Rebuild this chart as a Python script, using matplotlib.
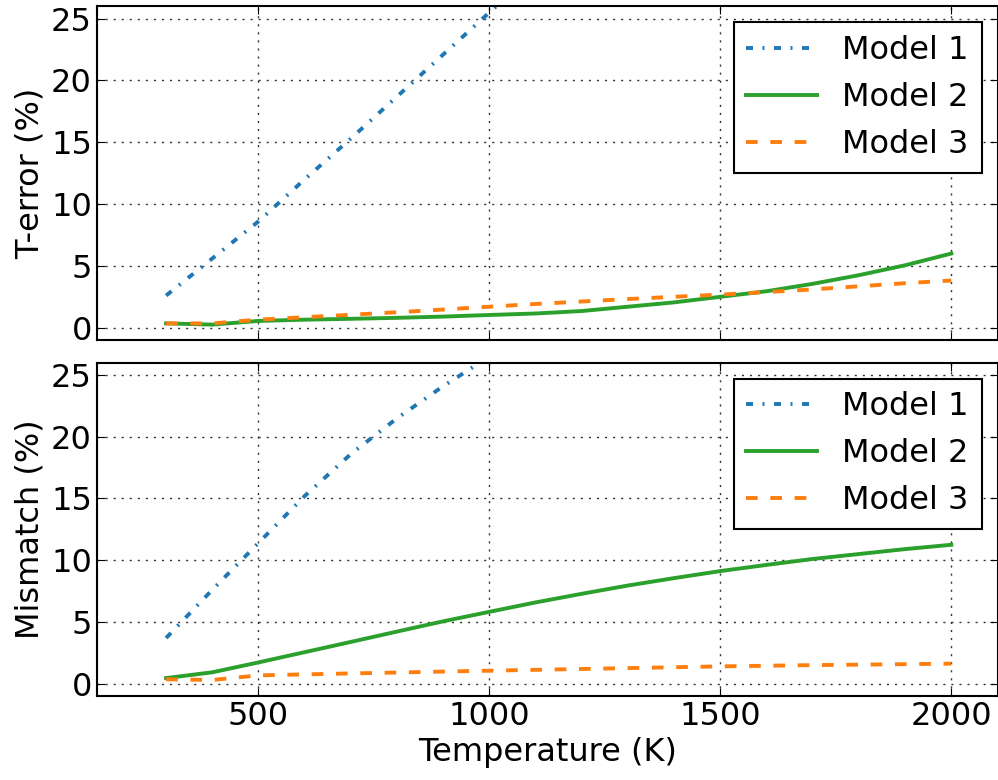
import matplotlib
matplotlib.use('Agg')
import matplotlib.pyplot as plt

# temperature grid (K)
temps = [300, 400, 500, 600, 700, 800, 900, 1000, 1100, 1200, 1300,
         1400, 1500, 1600, 1700, 1800, 1900, 2000]

# T-error (%)
terr_m1 = [2.6, 5.6, 8.6, 12.0, 15.3, 18.7, 22.1, 25.5, 28.9, 32.3, 35.7,
           39.1, 42.5, 45.9, 49.3, 52.7, 56.1, 59.5]
terr_m2 = [0.35, 0.25, 0.55, 0.65, 0.72, 0.8, 0.9, 1.03, 1.15, 1.35, 1.7,
           2.05, 2.5, 2.95, 3.55, 4.25, 5.05, 6.0]
terr_m3 = [0.35, 0.35, 0.65, 0.85, 1.05, 1.25, 1.47, 1.7, 1.92, 2.12, 2.32,
           2.5, 2.68, 2.88, 3.1, 3.35, 3.6, 3.82]

# Mismatch (%)
mis_m1 = [3.7, 7.6, 11.4, 15.2, 18.6, 21.5, 24.1, 26.5, 28.7, 30.8, 32.8,
          34.7, 36.5, 38.2, 39.8, 41.3, 42.7, 44.0]
mis_m2 = [0.45, 0.92, 1.72, 2.55, 3.38, 4.22, 5.05, 5.82, 6.58, 7.28, 7.95,
          8.55, 9.12, 9.62, 10.1, 10.5, 10.9, 11.25]
mis_m3 = [0.35, 0.3, 0.67, 0.75, 0.83, 0.9, 0.98, 1.05, 1.12, 1.19, 1.26,
          1.33, 1.4, 1.45, 1.5, 1.54, 1.58, 1.62]

labels = ['Model 1', 'Model 2', 'Model 3']

plt.rcParams['font.size'] = 23
plt.rcParams['xtick.direction'] = 'in'
plt.rcParams['ytick.direction'] = 'in'
plt.rcParams['xtick.top'] = True
plt.rcParams['ytick.right'] = True
plt.rcParams['xtick.major.size'] = 6
plt.rcParams['ytick.major.size'] = 6

lw = 2.8
dashdot = (0, (1.8, 2.45, 0.5, 2.45))
dashed = (0, (3.0, 3.25))

fig = plt.figure(figsize=(9.98, 7.8), dpi=100)
ax1 = fig.add_axes([0.097, 0.564, 0.9025, 0.428])
ax2 = fig.add_axes([0.097, 0.1077, 0.9025, 0.4273], sharex=ax1)

for ax, d1, d2, d3, ylab in [(ax1, terr_m1, terr_m2, terr_m3, 'T-error (%)'),
                             (ax2, mis_m1, mis_m2, mis_m3, 'Mismatch (%)')]:
    ax.plot(temps, d1, color='#1f77b4', lw=lw, linestyle=dashdot, label=labels[0])
    ax.plot(temps, d2, color='#2ca02c', lw=lw, linestyle='-', label=labels[1])
    ax.plot(temps, d3, color='#ff7f0e', lw=lw, linestyle=dashed, label=labels[2])
    ax.set_xlim(150, 2100)
    ax.set_ylim(-1, 26)
    ax.set_yticks([0, 5, 10, 15, 20, 25])
    ax.set_xticks([500, 1000, 1500, 2000])
    ax.grid(True, color='0.2', linestyle=(0, (1.5, 4.3)), lw=1)
    ax.set_ylabel(ylab)
    for s in ax.spines.values():
        s.set_linewidth(1.5)
    leg = ax.legend(loc='upper right', fancybox=False, edgecolor='black',
                    framealpha=1, borderaxespad=0.5, handlelength=2.2)
    leg.get_frame().set_linewidth(1.5)

ax1.tick_params(labelbottom=False)
ax2.set_xlabel('Temperature (K)')

plt.savefig('out.png', dpi=100)
